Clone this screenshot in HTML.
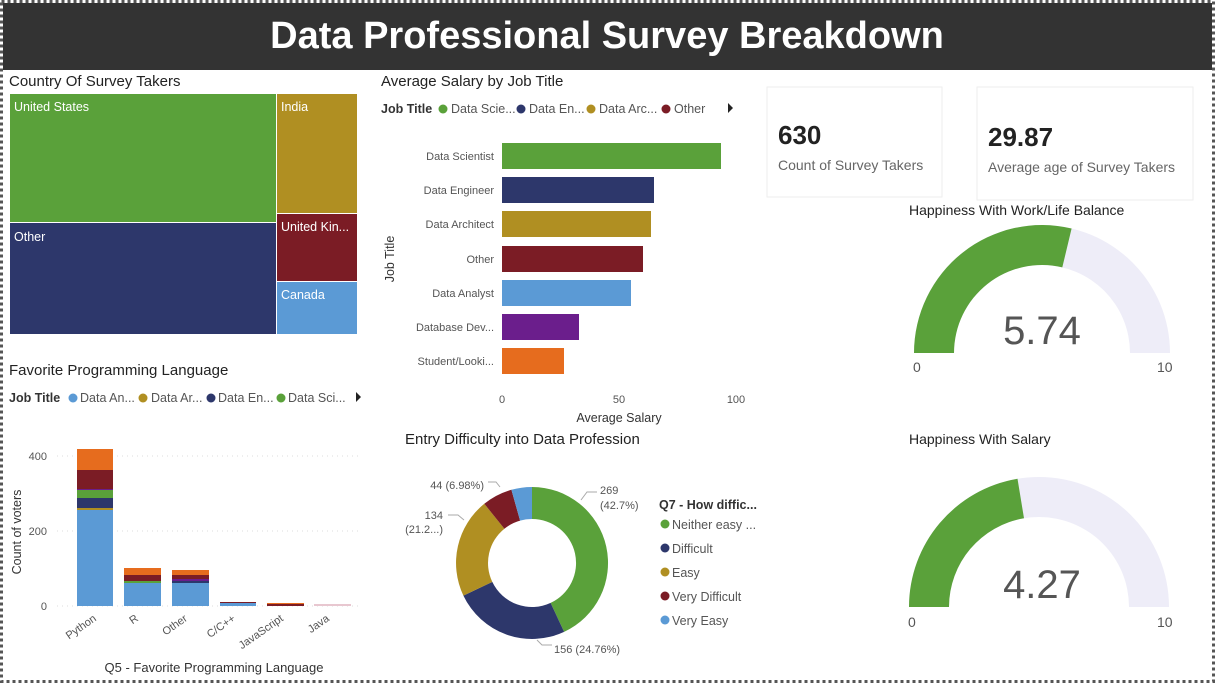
<!DOCTYPE html>
<html><head><meta charset="utf-8"><style>
body{margin:0;width:1215px;height:683px;overflow:hidden;background:#fff;font-family:"Liberation Sans",sans-serif}
svg{display:block}
</style></head><body>
<svg width="1215" height="683" viewBox="0 0 1215 683" font-family="Liberation Sans, sans-serif">
<rect x="1.5" y="1.5" width="1212" height="680" fill="none" stroke="#555" stroke-width="3" stroke-dasharray="3,3"/>
<rect x="3" y="3" width="1209" height="67" fill="#333"/>
<text x="607" y="48" text-anchor="middle" fill="#fff" font-size="38" font-weight="bold">Data Professional Survey Breakdown</text>

<!-- treemap -->
<text x="9" y="86" font-size="15" fill="#222">Country Of Survey Takers</text>
<rect x="10" y="94" width="266" height="128" fill="#5AA13A"/>
<rect x="277" y="94" width="80" height="119" fill="#B08F22"/>
<rect x="10" y="223" width="266" height="111" fill="#2D376B"/>
<rect x="277" y="214" width="80" height="67" fill="#7B1C25"/>
<rect x="277" y="282" width="80" height="52" fill="#5B9AD5"/>
<g font-size="12.5" fill="#fff"><text x="14" y="111">United States</text><text x="281" y="111">India</text><text x="14" y="241">Other</text><text x="281" y="231">United Kin...</text><text x="281" y="299">Canada</text></g>

<!-- bar chart -->
<text x="381" y="86" font-size="15" fill="#222">Average Salary by Job Title</text>
<g font-size="12.5" fill="#555"><text x="381" y="113" font-weight="bold" fill="#333">Job Title</text>
<circle cx="443" cy="109" r="4.5" fill="#5AA13A"/><text x="451" y="113">Data Scie...</text>
<circle cx="521" cy="109" r="4.5" fill="#2D376B"/><text x="529" y="113">Data En...</text>
<circle cx="591" cy="109" r="4.5" fill="#B08F22"/><text x="599" y="113">Data Arc...</text>
<circle cx="666" cy="109" r="4.5" fill="#7B1C25"/><text x="674" y="113">Other</text>
<path d="M728 103 l5 5 -5 5z" fill="#222"/></g>
<g font-size="11" fill="#555" text-anchor="end">
<rect x="502" y="143" width="219" height="26" fill="#5AA13A"/><text x="494" y="160">Data Scientist</text>
<rect x="502" y="177" width="152" height="26" fill="#2D376B"/><text x="494" y="194">Data Engineer</text>
<rect x="502" y="211" width="149" height="26" fill="#B08F22"/><text x="494" y="228">Data Architect</text>
<rect x="502" y="246" width="141" height="26" fill="#7B1C25"/><text x="494" y="263">Other</text>
<rect x="502" y="280" width="129" height="26" fill="#5B9AD5"/><text x="494" y="297">Data Analyst</text>
<rect x="502" y="314" width="77" height="26" fill="#6B1E8C"/><text x="494" y="331">Database Dev...</text>
<rect x="502" y="348" width="62" height="26" fill="#E66C1E"/><text x="494" y="365">Student/Looki...</text>
</g>
<g font-size="11" fill="#555" text-anchor="middle"><text x="502" y="403">0</text><text x="619" y="403">50</text><text x="736" y="403">100</text></g>
<text x="619" y="422" font-size="12.5" fill="#333" text-anchor="middle">Average Salary</text>
<text transform="translate(394,259) rotate(-90)" font-size="12.5" fill="#333" text-anchor="middle">Job Title</text>

<!-- KPI -->
<rect x="767" y="87" width="175" height="110" fill="#fff" stroke="#eee"/>
<rect x="977" y="87" width="216" height="113" fill="#fff" stroke="#eee"/>
<text x="778" y="144" font-size="26" font-weight="bold" fill="#222">630</text>
<text x="778" y="170" font-size="14" fill="#666">Count of Survey Takers</text>
<text x="988" y="146" font-size="26" font-weight="bold" fill="#222">29.87</text>
<text x="988" y="172" font-size="14" fill="#666">Average age of Survey Takers</text>

<!-- gauges -->
<text x="909" y="215" font-size="14" fill="#222">Happiness With Work/Life Balance</text>
<path d="M914 353 A128 128 0 0 1 1170 353 L1130 353 A88 88 0 0 0 954 353Z" fill="#EEEDF8"/>
<path d="M914 353 A128 128 0 0 1 1071.6 228.5 L1062.3 267.4 A88 88 0 0 0 954 353Z" fill="#5AA13A"/>
<text x="1042" y="344" font-size="40" fill="#555" text-anchor="middle" font-weight="300">5.74</text>
<text x="913" y="372" font-size="14" fill="#555">0</text><text x="1157" y="372" font-size="14" fill="#555">10</text>

<text x="909" y="444" font-size="14" fill="#222">Happiness With Salary</text>
<path d="M909 607 A130 130 0 0 1 1169 607 L1129 607 A90 90 0 0 0 949 607Z" fill="#EEEDF8"/>
<path d="M909 607 A130 130 0 0 1 1017.5 478.8 L1024 518.3 A90 90 0 0 0 949 607Z" fill="#5AA13A"/>
<text x="1042" y="598" font-size="40" fill="#555" text-anchor="middle">4.27</text>
<text x="908" y="627" font-size="14" fill="#555">0</text><text x="1157" y="627" font-size="14" fill="#555">10</text>

<!-- programming -->
<text x="9" y="375" font-size="15" fill="#222">Favorite Programming Language</text>
<g font-size="12.5" fill="#555"><text x="9" y="402" font-weight="bold" fill="#333">Job Title</text>
<circle cx="73" cy="398" r="4.5" fill="#5B9AD5"/><text x="80" y="402">Data An...</text>
<circle cx="143" cy="398" r="4.5" fill="#B08F22"/><text x="151" y="402">Data Ar...</text>
<circle cx="211" cy="398" r="4.5" fill="#2D376B"/><text x="218" y="402">Data En...</text>
<circle cx="281" cy="398" r="4.5" fill="#5AA13A"/><text x="288" y="402">Data Sci...</text>
<path d="M356 392 l5 5 -5 5z" fill="#222"/></g>
<g stroke="#ddd" stroke-dasharray="1,4"><line x1="57" y1="456" x2="360" y2="456"/><line x1="57" y1="531" x2="360" y2="531"/><line x1="57" y1="606" x2="360" y2="606"/></g>
<g font-size="11" fill="#555" text-anchor="end"><text x="47" y="460">400</text><text x="47" y="535">200</text><text x="47" y="610">0</text></g>
<text transform="translate(21,532) rotate(-90)" font-size="12.5" fill="#333" text-anchor="middle">Count of voters</text>
<rect x="77" y="510" width="36" height="96" fill="#5B9AD5"/><rect x="77" y="508" width="36" height="2" fill="#B08F22"/>
<rect x="77" y="498" width="36" height="10" fill="#2D376B"/><rect x="77" y="490" width="36" height="8" fill="#5AA13A"/>
<rect x="77" y="489" width="36" height="1" fill="#6B1E8C"/><rect x="77" y="470" width="36" height="19" fill="#7B1C25"/>
<rect x="77" y="449" width="36" height="21" fill="#E66C1E"/>
<rect x="124" y="583" width="37" height="23" fill="#5B9AD5"/><rect x="124" y="581" width="37" height="2" fill="#5AA13A"/>
<rect x="124" y="575" width="37" height="6" fill="#7B1C25"/><rect x="124" y="568" width="37" height="7" fill="#E66C1E"/>
<rect x="172" y="583" width="37" height="23" fill="#5B9AD5"/><rect x="172" y="581" width="37" height="2" fill="#2D376B"/>
<rect x="172" y="579" width="37" height="2" fill="#6B1E8C"/><rect x="172" y="575" width="37" height="4" fill="#7B1C25"/>
<rect x="172" y="570" width="37" height="5" fill="#E66C1E"/>
<rect x="220" y="603" width="36" height="3" fill="#5B9AD5"/><rect x="220" y="602" width="36" height="1" fill="#7B1C25"/>
<rect x="267" y="604" width="37" height="2" fill="#7B1C25"/><rect x="267" y="603" width="37" height="1" fill="#E66C1E"/>
<rect x="314" y="604" width="37" height="2" fill="#E8C7D0"/>
<g font-size="11" fill="#555" text-anchor="end">
<text transform="translate(97,620) rotate(-35)">Python</text><text transform="translate(139,620) rotate(-35)">R</text>
<text transform="translate(188,620) rotate(-35)">Other</text><text transform="translate(236,620) rotate(-35)">C/C++</text>
<text transform="translate(284,620) rotate(-35)">JavaScript</text><text transform="translate(330,620) rotate(-35)">Java</text></g>
<text x="214" y="672" font-size="13" fill="#333" text-anchor="middle">Q5 - Favorite Programming Language</text>

<!-- donut -->
<text x="405" y="444" font-size="15" fill="#222">Entry Difficulty into Data Profession</text>
<g transform="translate(532,563)">
<path d="M0 -76 A76 76 0 0 1 32.1 68.9 L18.6 39.9 A44 44 0 0 0 0 -44Z" fill="#5AA13A"/>
<path d="M32.1 68.9 A76 76 0 0 1 -68.6 32.6 L-39.7 18.9 A44 44 0 0 0 18.6 39.9Z" fill="#2D376B"/>
<path d="M-68.6 32.6 A76 76 0 0 1 -47.7 -59.2 L-27.6 -34.3 A44 44 0 0 0 -39.7 18.9Z" fill="#B08F22"/>
<path d="M-47.7 -59.2 A76 76 0 0 1 -20.6 -73.2 L-11.9 -42.4 A44 44 0 0 0 -27.6 -34.3Z" fill="#7B1C25"/>
<path d="M-20.6 -73.2 A76 76 0 0 1 0 -76 L0 -44 A44 44 0 0 0 -11.9 -42.4Z" fill="#5B9AD5"/>
</g>
<g stroke="#aaa" fill="none"><path d="M581 500 l6 -8 h10"/><path d="M537 640 l5 5 h10"/><path d="M464 520 l-6 -5 h-10"/><path d="M500 487 l-4 -5 h-8"/></g>
<g font-size="11" fill="#555"><text x="600" y="494">269</text><text x="600" y="509">(42.7%)</text>
<text x="554" y="653">156 (24.76%)</text><text x="443" y="519" text-anchor="end">134</text><text x="443" y="533" text-anchor="end">(21.2...)</text>
<text x="484" y="489" text-anchor="end">44 (6.98%)</text></g>
<g font-size="12.5" fill="#555"><text x="659" y="509" font-weight="bold" fill="#333">Q7 - How diffic...</text>
<circle cx="665" cy="524" r="4.5" fill="#5AA13A"/><text x="672" y="529">Neither easy ...</text>
<circle cx="665" cy="548" r="4.5" fill="#2D376B"/><text x="672" y="553">Difficult</text>
<circle cx="665" cy="572" r="4.5" fill="#B08F22"/><text x="672" y="577">Easy</text>
<circle cx="665" cy="596" r="4.5" fill="#7B1C25"/><text x="672" y="601">Very Difficult</text>
<circle cx="665" cy="620" r="4.5" fill="#5B9AD5"/><text x="672" y="625">Very Easy</text></g>
</svg>
</body></html>
